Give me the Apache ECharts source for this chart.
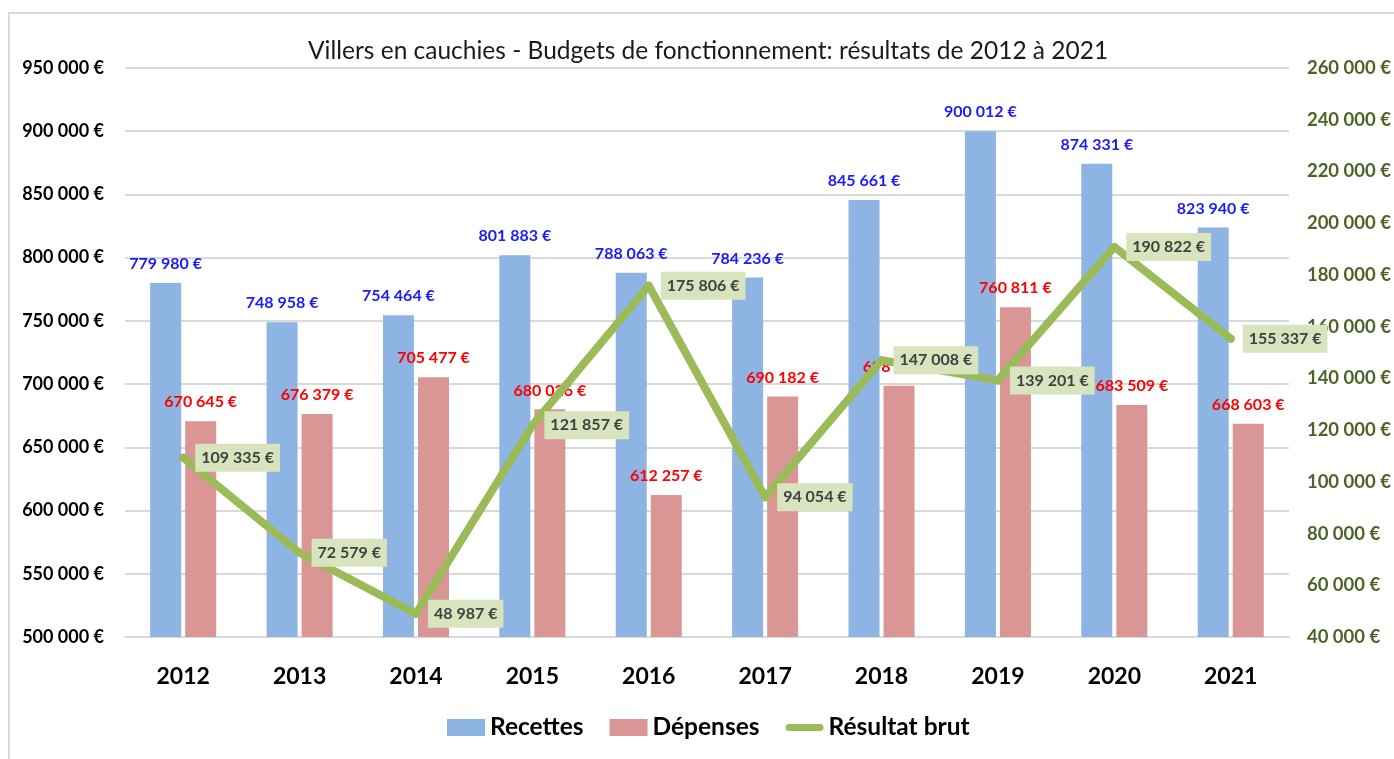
<!DOCTYPE html>
<html>
<head>
<meta charset="utf-8">
<script src="https://cdn.jsdelivr.net/npm/echarts@6/dist/echarts.min.js"></script>
<style>
html,body{margin:0;padding:0;background:#fff;}
#main{width:1394px;height:759px;}
</style>
</head>
<body>
<div id="main"></div>
<script>
const categories = ['2012','2013','2014','2015','2016','2017','2018','2019','2020','2021'];
const recettes = [779980, 748958, 754464, 801883, 788063, 784236, 845661, 900012, 874331, 823940];
const depenses = [670645, 676379, 705477, 680026, 612257, 690182, 698653, 760811, 683509, 668603];
const resultat = [109335, 72579, 48987, 121857, 175806, 94054, 147008, 139201, 190822, 155337];
const titleText = 'Villers en cauchies - Budgets de fonctionnement: résultats de 2012 à 2021';

const FONT = 'Lato';
function eur(v){
  return String(Math.round(v)).replace(/\B(?=(\d{3})+(?!\d))/g, ' ') + ' €';
}

const chart = echarts.init(document.getElementById('main'));
chart.setOption({
  backgroundColor: '#fff',
  animation: false,
  textStyle: {fontFamily: FONT},
  graphic: [{
    type: 'rect', z: -10,
    shape: {x: 9, y: 13, width: 1400, height: 760},
    style: {fill: 'none', stroke: '#D9D9D9', lineWidth: 2}
  }],
  title: {
    text: titleText, left: 303, top: 34,
    textStyle: {fontFamily: FONT, fontSize: 24.5, fontWeight: 'normal', color: '#1a1a1a'}
  },
  legend: {
    bottom: 14, left: 442, itemWidth: 38, itemHeight: 17, itemGap: 26,
    textStyle: {fontFamily: FONT, fontSize: 24.5, fontWeight: 'bold', color: '#000'},
    data: [
      {name: 'Recettes', icon: 'rect'},
      {name: 'Dépenses', icon: 'rect'},
      {name: 'Résultat brut', icon: 'path://M4,0 L40,0 A4,4 0 0 1 40,8 L4,8 A4,4 0 0 1 4,0 Z'}
    ]
  },
  grid: {left: 125, right: 104, top: 68, bottom: 122},
  xAxis: {
    type: 'category', data: categories,
    axisLine: {lineStyle: {color: '#D9D9D9', width: 2}},
    axisTick: {show: false},
    axisLabel: {fontFamily: FONT, fontSize: 23, fontWeight: 'bold', color: '#000', margin: 28}
  },
  yAxis: [{
    type: 'value', min: 500000, max: 950000, interval: 50000,
    axisLine: {show: false}, axisTick: {show: false},
    splitLine: {lineStyle: {color: '#D9D9D9', width: 2}},
    axisLabel: {fontFamily: FONT, fontSize: 18, fontWeight: 'bold', color: '#000', margin: 21, formatter: eur}
  }, {
    type: 'value', min: 40000, max: 260000, interval: 20000,
    axisLine: {show: false}, axisTick: {show: false}, splitLine: {show: false},
    axisLabel: {fontFamily: FONT, fontSize: 18.5, fontWeight: 'bold', color: '#4F6228', margin: 18, formatter: eur}
  }],
  series: [{
    name: 'Recettes', type: 'bar', data: recettes, barWidth: 31, barGap: '13%',
    itemStyle: {color: '#8EB4E3'},
    label: {show: true, position: 'top', distance: 11, color: '#1A1AFF', fontFamily: FONT, fontSize: 16, fontWeight: 'bold',
      formatter: p => eur(p.value)}
  }, {
    name: 'Dépenses', type: 'bar', data: depenses, barWidth: 31,
    itemStyle: {color: '#D99694'},
    label: {show: true, position: 'top', distance: 11, color: '#FF0000', fontFamily: FONT, fontSize: 16, fontWeight: 'bold',
      formatter: p => eur(p.value)}
  }, {
    name: 'Résultat brut', type: 'line', yAxisIndex: 1, data: resultat,
    showSymbol: true, symbol: 'circle', symbolSize: 8, z: 5,
    lineStyle: {color: '#9BBB59', width: 8, cap: 'round', join: 'round'},
    itemStyle: {color: '#9BBB59'},
    label: {show: true, position: 'right', distance: 8, color: '#404040', fontFamily: FONT, fontSize: 16, fontWeight: 'bold',
      backgroundColor: '#D7E4BD', padding: [6, 6], formatter: p => eur(p.value)}
  }]
});
</script>
</body>
</html>
